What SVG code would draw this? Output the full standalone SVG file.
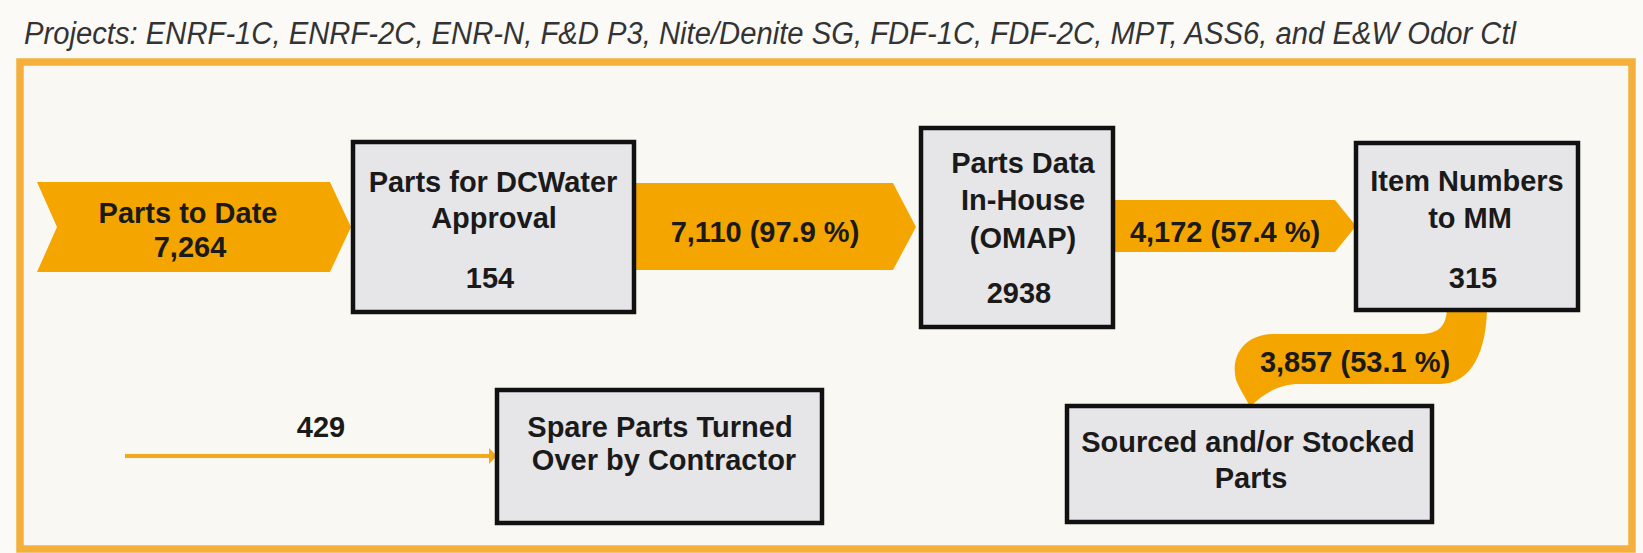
<svg xmlns="http://www.w3.org/2000/svg" width="1643" height="553" viewBox="0 0 1643 553">
<defs>
<style>
.t{font-family:"Liberation Sans",Arial,sans-serif;font-weight:bold;font-size:29px;fill:#1a1a1a;text-anchor:middle}
.box{fill:#E6E6E8;stroke:#111;stroke-width:4.5}
.flow{fill:#F5A500}
.title{font-family:"Liberation Sans",Arial,sans-serif;font-style:italic;font-size:31px;fill:#333}
</style>
<marker id="ah" markerWidth="8" markerHeight="16" refX="8" refY="8" orient="auto" markerUnits="userSpaceOnUse">
<path d="M0,0 L8,8 L0,16 Z" fill="#F2A81D"/>
</marker>
</defs>
<rect x="0" y="0" width="1643" height="553" fill="#FBFAF7"/>
<text class="title" x="24" y="44" textLength="1492" lengthAdjust="spacingAndGlyphs">Projects:  ENRF-1C, ENRF-2C, ENR-N, F&amp;D P3, Nite/Denite SG, FDF-1C, FDF-2C, MPT, ASS6, and E&amp;W Odor Ctl</text>
<rect x="20" y="62" width="1612" height="487" fill="#FAF8F3" stroke="#F5B03C" stroke-width="7.5"/>
<g id="connectors">
<path class="flow" d="M37,182 L330,182 L351,227 L330,272 L37,272 L57,227 Z"/>
<path class="flow" d="M630,183 L893,183 L916,227 L893,270 L630,270 Z"/>
<path class="flow" d="M1110,200 L1335,200 L1356,226 L1335,252 L1110,252 Z"/>
<path class="flow" d="M1447,306 L1487,306 C1487,350 1472,384 1440,384 L1300,384 C1280,384 1265,392 1250,407 C1246,398 1240,390 1236,380 C1230,355 1245,334 1275,334 L1420,334 C1440,334 1447,325 1447,306 Z"/>
<line x1="125" y1="456" x2="497" y2="456" stroke="#F2A81D" stroke-width="4" marker-end="url(#ah)"/>
</g>
<g id="lbl-start"><text class="t" x="188" y="223">Parts to Date</text><text class="t" x="190" y="257">7,264</text></g>
<g id="lbl-7110"><text class="t" x="765" y="242">7,110 (97.9 %)</text></g>
<g id="lbl-4172"><text class="t" x="1225" y="242">4,172 (57.4 %)</text></g>
<g id="lbl-3857"><text class="t" x="1355" y="372">3,857 (53.1 %)</text></g>
<g id="lbl-429"><text class="t" x="321" y="437">429</text></g>
<g id="node-approval"><rect class="box" x="353" y="142" width="281" height="170"/><text class="t" x="493" y="192">Parts for DCWater</text><text class="t" x="494" y="228">Approval</text><text class="t" x="490" y="288">154</text></g>
<g id="node-omap"><rect class="box" x="921" y="128" width="192" height="199"/><text class="t" x="1023" y="173">Parts Data</text><text class="t" x="1023" y="210">In-House</text><text class="t" x="1023" y="248">(OMAP)</text><text class="t" x="1019" y="303">2938</text></g>
<g id="node-mm"><rect class="box" x="1356" y="143" width="222" height="167"/><text class="t" x="1467" y="191">Item Numbers</text><text class="t" x="1470" y="228">to MM</text><text class="t" x="1473" y="288">315</text></g>
<g id="node-sourced"><rect class="box" x="1067" y="406" width="365" height="116"/><text class="t" x="1248" y="452">Sourced and/or Stocked</text><text class="t" x="1251" y="488">Parts</text></g>
<g id="node-spare"><rect class="box" x="497" y="390" width="325" height="133"/><text class="t" x="660" y="437">Spare Parts Turned</text><text class="t" x="664" y="470">Over by Contractor</text></g>
</svg>
